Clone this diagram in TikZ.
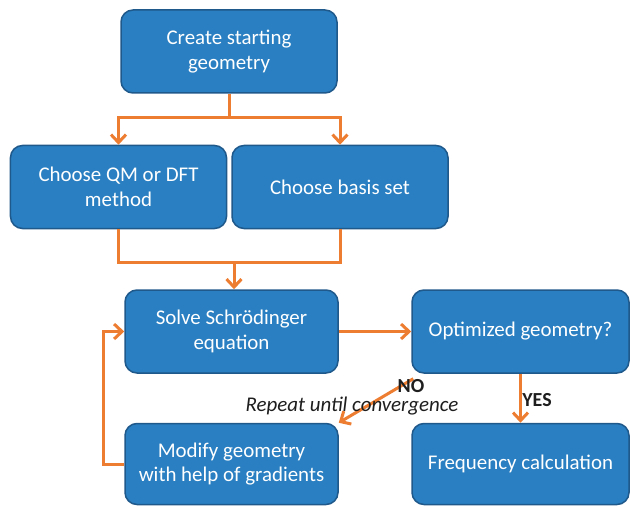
\documentclass[tikz,border=0pt]{standalone}
\usepackage{fontspec}
\setmainfont{Carlito}
\usetikzlibrary{arrows.meta}
\definecolor{boxblue}{RGB}{41,127,193}
\definecolor{boxedge}{RGB}{31,88,138}
\definecolor{arrorange}{RGB}{237,125,49}
\definecolor{labelgray}{RGB}{30,30,30}
\begin{document}
\begin{tikzpicture}[x=1bp, y=-1bp,
    box/.style={draw=boxedge, fill=boxblue, line width=1.5bp, rounded corners=12bp,
        minimum width=216bp, minimum height=83bp, align=center, text=white,
        font=\fontsize{21}{25}\selectfont, inner sep=0pt},
    flow/.style={draw=arrorange, line width=3bp},
    tip/.style={-{Straight Barb[length=8bp,width=15bp]}},
    lbl/.style={text=labelgray, inner sep=0pt}]
    \useasboundingbox (0,0) rectangle (630,506);

    \node[box] (start) at (229,51.5) {Create starting\\geometry};
    \node[box] (method) at (118.5,187) {Choose QM or DFT\\method};
    \node[box] (basis) at (340,187) {Choose basis set};
    \node[box, minimum width=213bp] (solve) at (231.5,331.5) {Solve Schrödinger\\equation};
    \node[box, minimum width=217bp] (opt) at (520.5,331.5) {Optimized geometry?};
    \node[box, minimum width=213bp, minimum height=81bp] (modify) at (231.5,464) {Modify geometry\\with help of gradients};
    \node[box, minimum width=217bp, minimum height=81bp] (freq) at (520.5,464) {Frequency calculation};

    \coordinate (split) at (229,118);
    \coordinate (join) at (234,262);

    \draw[flow] (start.south) -- (split);
    \draw[flow, tip] (split) -| (method.north);
    \draw[flow, tip] (split) -| (basis.north);

    \draw[flow] (method.south) |- (join);
    \draw[flow] (basis.south) |- (join);
    \draw[flow, tip] (join) -- (join |- solve.north);

    \draw[flow, tip] (solve.east) -- (opt.west);
    \draw[flow, tip] ([xshift=2bp,yshift=-5bp]opt.south west) -- (modify.north east);
    \draw[flow, tip] (opt.south) -- (opt.south |- freq.north);
    \draw[flow, tip] (modify.west) -- ++(-21,0) |- (solve.west);

    \node[lbl, font=\fontsize{20}{22}\selectfont\bfseries] (no) at (411,386) {NO};
    \node[lbl, font=\fontsize{20}{22}\selectfont\bfseries] (yes) at (537,400) {YES};
    \node[lbl, font=\fontsize{21}{23}\selectfont\itshape] (repeat) at (352,406) {Repeat until convergence};
\end{tikzpicture}
\end{document}
